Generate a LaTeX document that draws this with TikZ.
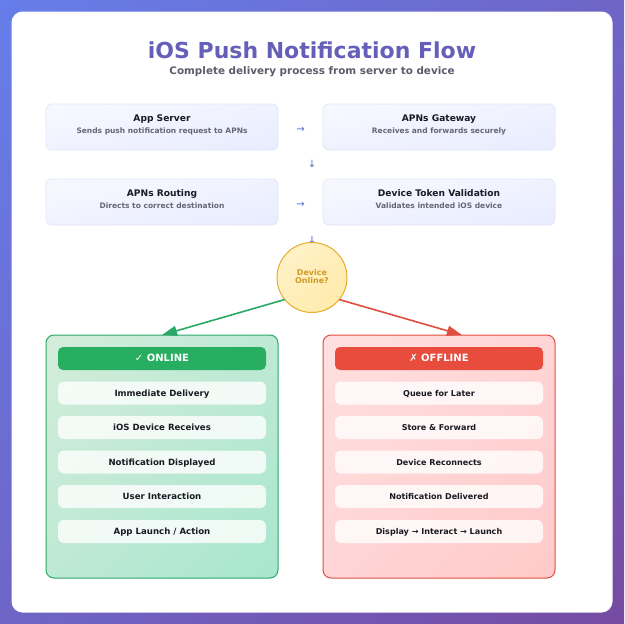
\documentclass[tikz,border=0pt]{standalone}
\usepackage{fontspec}
\setmainfont{DejaVu Sans}
\usetikzlibrary{arrows.meta,calc,shadings}
\definecolor{bgA}{HTML}{667EEA}\definecolor{bgB}{HTML}{764BA2}\definecolor{bgM}{HTML}{6E65C6}
\definecolor{boxA}{HTML}{F8F9FF}\definecolor{boxB}{HTML}{E8ECFF}\definecolor{boxM}{HTML}{F0F2FF}
\definecolor{boxL}{HTML}{E2E6F7}
\definecolor{grA}{HTML}{D4EDDA}\definecolor{grB}{HTML}{A8E6CF}\definecolor{grM}{HTML}{BEE9D4}\definecolor{grL}{HTML}{2BA866}\definecolor{grH}{HTML}{27AE60}
\definecolor{rdA}{HTML}{FFE0E0}\definecolor{rdB}{HTML}{FFC9C9}\definecolor{rdM}{HTML}{FFD5D5}\definecolor{rdL}{HTML}{E04E40}\definecolor{rdH}{HTML}{E74C3C}
\definecolor{ylA}{HTML}{FFF3CD}\definecolor{ylB}{HTML}{FFEAA7}\definecolor{ylM}{HTML}{FFEEBA}\definecolor{ylL}{HTML}{E6AC2E}
\definecolor{ylT}{HTML}{CE9A2A}
\definecolor{ink}{HTML}{1A1A22}\definecolor{subink}{HTML}{666677}\definecolor{ttl}{HTML}{655FBA}
\tikzset{
  x=1pt,y=-1pt,
  every node/.style={inner sep=0pt,outer sep=0pt,font=\bfseries},
  flowbox/.style={rectangle,rounded corners=6pt,draw=boxL,line width=.8pt,minimum width=232pt,minimum height=46pt,align=center,
    upper left=boxA,upper right=boxM,lower left=boxM,lower right=boxB,shade},
  boxtitle/.style={font=\bfseries\fontsize{9.1}{11}\selectfont,text=ink,text height=7pt,text depth=0pt},
  boxsub/.style={font=\bfseries\fontsize{7.5}{9}\selectfont,text=subink,text height=6pt,text depth=0pt},
  hop/.style={font=\fontsize{10}{12}\selectfont,text=bgA!85!black},
  panel/.style={rectangle,rounded corners=8pt,line width=1pt,minimum width=232pt,minimum height=243pt},
  online/.style={panel,draw=grL,upper left=grA,upper right=grM,lower left=grM,lower right=grB,shade},
  offline/.style={panel,draw=rdL,upper left=rdA,upper right=rdM,lower left=rdM,lower right=rdB,shade},
  head/.style={rectangle,rounded corners=5pt,minimum width=208pt,minimum height=23pt,text=white,font=\bfseries\fontsize{10}{12}\selectfont,text height=7.8pt,text depth=1.4pt},
  item/.style={rectangle,rounded corners=6pt,minimum width=208pt,minimum height=23pt,fill=white,fill opacity=.8,text opacity=1,text=ink,text height=7.5pt,text depth=1pt},
  itemon/.style={item,font=\bfseries\fontsize{8.6}{11}\selectfont},
  itemoff/.style={item,font=\bfseries\fontsize{8.05}{10}\selectfont},
  branch/.style={line width=1.6pt,-{Triangle[length=15pt,width=10pt]}},
}
\begin{document}
\begin{tikzpicture}
\useasboundingbox (0,0) rectangle (624,624);
\shade[upper left=bgA,upper right=bgM,lower left=bgM,lower right=bgB] (0,0) rectangle (624,624);
\fill[white,rounded corners=11pt] (11.5,11.5) rectangle (612.5,612.5);
\node[font=\bfseries\fontsize{22}{26}\selectfont,text=ttl] (title) at (312,50) {iOS Push Notification Flow};
\node[font=\bfseries\fontsize{10.4}{13}\selectfont,text=subink!90!black] (subtitle) at (312,71.5) {Complete delivery process from server to device};

\node[flowbox] (server) at (162,127) {}; 
\node[boxtitle] (serverT) at (162,118) {App Server};
\node[boxsub] (serverS) at (162,130) {Sends push notification request to APNs};
\node[flowbox] (gateway) at (439,127) {};
\node[boxtitle] (gatewayT) at (439,118) {APNs Gateway};
\node[boxsub] (gatewayS) at (439,130) {Receives and forwards securely};
\node[flowbox] (routing) at (162,202) {};
\node[boxtitle] (routingT) at (162,193) {APNs Routing};
\node[boxsub] (routingS) at (162,205) {Directs to correct destination};
\node[flowbox] (token) at (439,202) {};
\node[boxtitle] (tokenT) at (439,193) {Device Token Validation};
\node[boxsub] (tokenS) at (439,205) {Validates intended iOS device};

\node[hop] (h1) at (300.5,129.5) {→};
\node[hop] (h2) at (312,164) {↓};
\node[hop] (h3) at (300.5,205) {→};
\node[hop] (h4) at (312,239.5) {↓};

\node[circle,minimum size=70pt,draw=ylL,line width=1pt,shade,upper left=ylA,upper right=ylM,lower left=ylM,lower right=ylB] (decide) at (312,277.5) {};
\node[align=center,text=ylT,font=\bfseries\fontsize{8}{8.6}\selectfont] (decideT) at (312,276.5) {Device\\Online?};

\node[online] (on) at (162,456.5) {};
\node[offline] (off) at (439,456.5) {};
\coordinate (offtip) at (462,335);
\draw[branch,grL] (decide.219) -- (on.north);
\draw[branch,rdL] (decide.-39) -- (offtip);

\node[head,fill=grH] (onH) at (162,358.5) {✓ ONLINE};
\node[itemon] (on1) at (162,393) {Immediate Delivery};
\node[itemon] (on2) at (162,427.5) {iOS Device Receives};
\node[itemon] (on3) at (162,462) {Notification Displayed};
\node[itemon] (on4) at (162,496.5) {User Interaction};
\node[itemon] (on5) at (162,531.5) {App Launch / Action};

\node[head,fill=rdH] (offH) at (439,358.5) {✗ OFFLINE};
\node[itemoff] (off1) at (439,393) {Queue for Later};
\node[itemoff] (off2) at (439,427.5) {Store \& Forward};
\node[itemoff] (off3) at (439,462) {Device Reconnects};
\node[itemoff] (off4) at (439,496.5) {Notification Delivered};
\node[itemoff] (off5) at (439,531.5) {Display → Interact → Launch};
\end{tikzpicture}
\end{document}
